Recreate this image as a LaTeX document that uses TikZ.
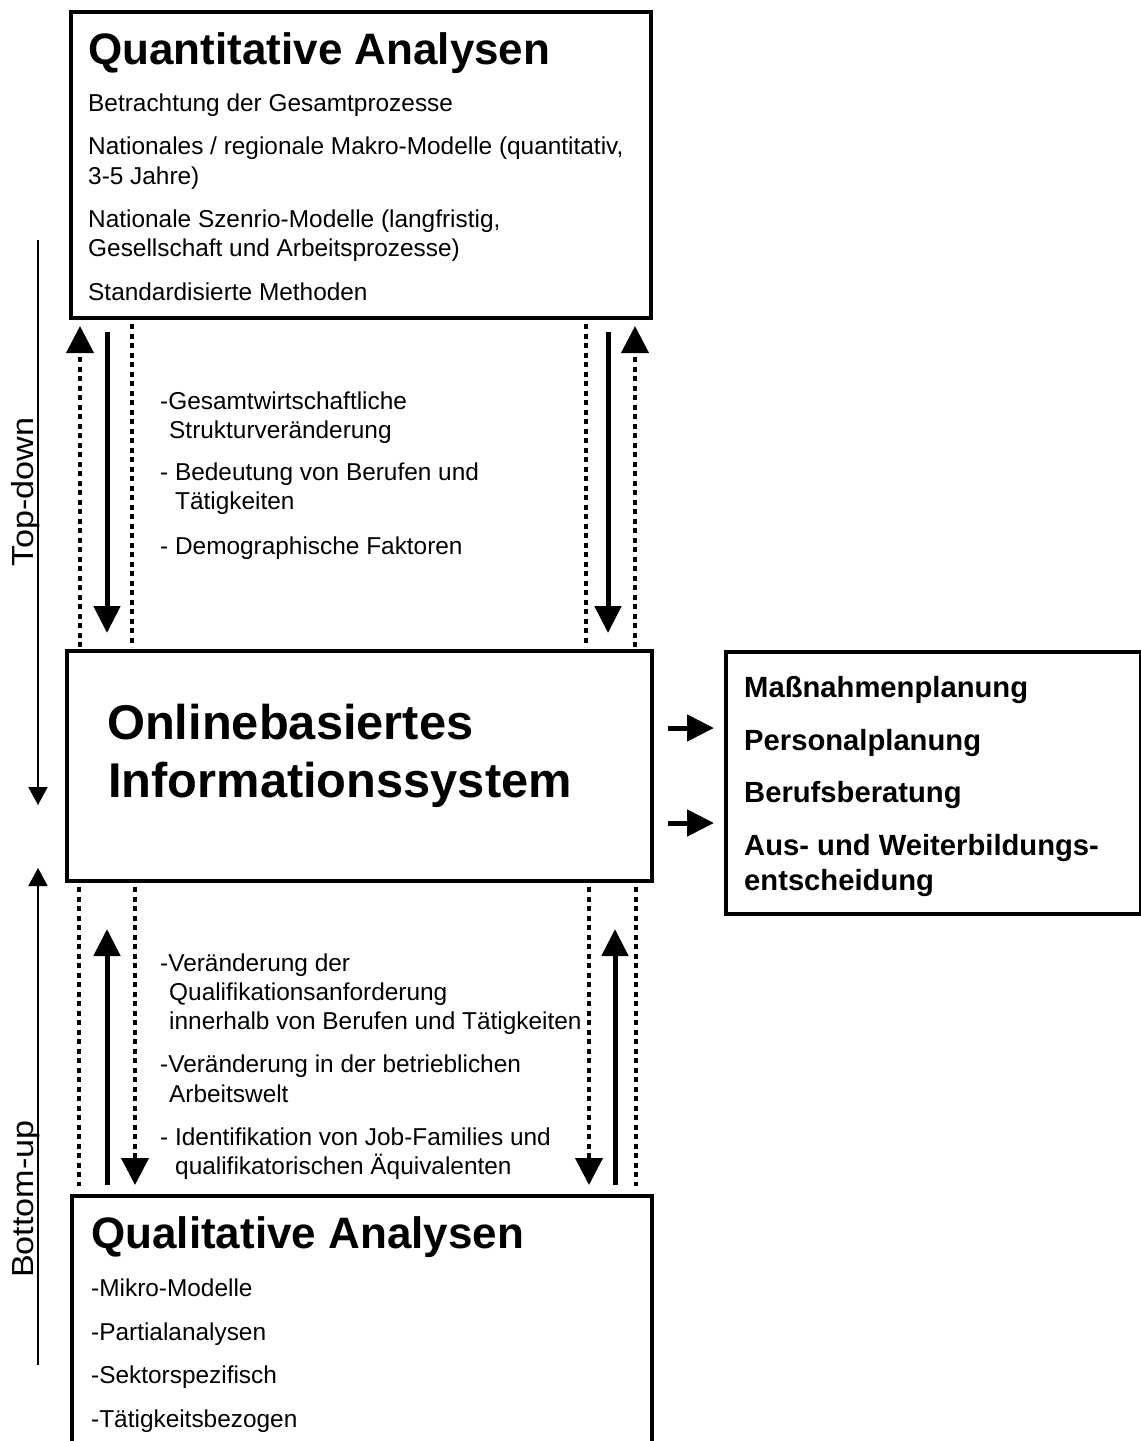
\documentclass[tikz,border=0pt]{standalone}
\usepackage{fontspec}
\setmainfont{Liberation Sans}
\usetikzlibrary{arrows.meta}
\begin{document}
\begin{tikzpicture}[x=1pt,y=-1pt,
 box/.style={draw,line width=4pt,inner sep=0pt,anchor=north west},
 txt/.style={anchor=base west,inner sep=0pt,font=\fontsize{24.4}{29}\selectfont},
 ttl/.style={anchor=base west,inner sep=0pt,font=\bfseries\fontsize{44}{50}\selectfont},
 rtxt/.style={anchor=base west,inner sep=0pt,font=\bfseries\fontsize{29.2}{35}\selectfont},
 bigtxt/.style={anchor=base west,inner sep=0pt,font=\bfseries\fontsize{48.8}{58}\selectfont},
 solidarr/.style={line width=5pt,-{Triangle[length=27pt,width=26pt]}},
 dotarr/.style={line width=4pt,dash pattern=on 5pt off 4.5pt,-{Triangle[length=27pt,width=27pt]}},
 dotline/.style={line width=4pt,dash pattern=on 5pt off 4.5pt},
 thinarr/.style={line width=2pt,-{Triangle[length=18pt,width=19pt]}},
 side/.style={font=\fontsize{30.5}{36}\selectfont,anchor=base,rotate=90,xscale=1.12,inner sep=0pt}
]
\useasboundingbox (0,0) rectangle (1141,1441);

% boxes
\node[box,minimum width=580pt,minimum height=306pt] (top) at (69,10) {};
\node[box,minimum width=585pt,minimum height=230pt] (mid) at (65,649) {};
\node[box,minimum width=415pt,minimum height=262pt] (rbox) at (724,650) {};
\node[box,minimum width=580pt,minimum height=254pt] (bot) at (70,1194) {};

% top box text
\node[ttl] (tt) at (88,64) {Quantitative Analysen};
\node[txt] (t1) at (88,111) {Betrachtung der Gesamtprozesse};
\node[txt] (t2) at (88,154) {Nationales / regionale Makro-Modelle (quantitativ,};
\node[txt] (t2b) at (88,184) {3-5 Jahre)};
\node[txt] (t3) at (88,227) {Nationale Szenrio-Modelle (langfristig,};
\node[txt] (t3b) at (88,256) {Gesellschaft und Arbeitsprozesse)};
\node[txt] (t4) at (88,300) {Standardisierte Methoden};

% upper middle text
\node[txt] (u1) at (160,409) {-Gesamtwirtschaftliche};
\node[txt] (u1b) at (169,438) {Strukturveränderung};
\node[txt] (u2) at (160,480) {- Bedeutung von Berufen und};
\node[txt] (u2b) at (175,509) {Tätigkeiten};
\node[txt] (u3) at (160,554) {- Demographische Faktoren};

% middle box text
\node[bigtxt] (m1) at (107,739) {Onlinebasiertes};
\node[bigtxt] (m2) at (108,797) {Informationssystem};

% right box text
\node[rtxt] (r1) at (744,697) {Maßnahmenplanung};
\node[rtxt] (r2) at (744,750) {Personalplanung};
\node[rtxt] (r3) at (744,802) {Berufsberatung};
\node[rtxt] (r4) at (744,855) {Aus- und Weiterbildungs-};
\node[rtxt] (r4b) at (744,890) {entscheidung};

% lower middle text
\node[txt] (l1) at (160,971) {-Veränderung der};
\node[txt] (l1b) at (169,1000) {Qualifikationsanforderung};
\node[txt] (l1c) at (169,1029) {innerhalb von Berufen und Tätigkeiten};
\node[txt] (l2) at (160,1072) {-Veränderung in der betrieblichen};
\node[txt] (l2b) at (169,1102) {Arbeitswelt};
\node[txt] (l3) at (160,1145) {- Identifikation von Job-Families und};
\node[txt] (l3b) at (175,1174) {qualifikatorischen Äquivalenten};

% bottom box text
\node[ttl] (bt) at (91,1248) {Qualitative Analysen};
\node[txt] (b1) at (91,1296) {-Mikro-Modelle};
\node[txt] (b2) at (91,1340) {-Partialanalysen};
\node[txt] (b3) at (91,1383) {-Sektorspezifisch};
\node[txt] (b4) at (91,1427) {-Tätigkeitsbezogen};

% side labels
\node[side] (td) at (34,492) {Top-down};
\node[side] (bu) at (34,1199) {Bottom-up};
\coordinate (tdA) at (38,240);
\coordinate (tdB) at (38,805);
\coordinate (buA) at (38,1365);
\coordinate (buB) at (38,868);
\draw[thinarr] (tdA) -- (tdB);
\draw[thinarr] (buA) -- (buB);

% x positions
\coordinate (xa) at (80,0);
\coordinate (xb) at (107,0);
\coordinate (xc) at (132,0);
\coordinate (xd) at (586,0);
\coordinate (xe) at (608,0);
\coordinate (xf) at (635,0);
\coordinate (ga) at (79,0);
\coordinate (gb) at (107,0);
\coordinate (gc) at (135,0);
\coordinate (gd) at (589,0);
\coordinate (ge) at (615,0);
\coordinate (gf) at (636,0);

% upper connectors
\draw[dotarr,shorten >=6pt,shorten <=2pt] (mid.north -| xa) -- (top.south -| xa);
\draw[solidarr,shorten <=12pt,shorten >=16pt] (top.south -| xb) -- (mid.north -| xb);
\draw[dotline,shorten <=4pt,shorten >=2pt] (top.south -| xc) -- (mid.north -| xc);
\draw[dotline,shorten <=4pt,shorten >=2pt] (top.south -| xd) -- (mid.north -| xd);
\draw[solidarr,shorten <=12pt,shorten >=16pt] (top.south -| xe) -- (mid.north -| xe);
\draw[dotarr,shorten >=6pt,shorten <=2pt] (mid.north -| xf) -- (top.south -| xf);

% lower connectors
\draw[dotline,shorten <=4pt,shorten >=8pt] (mid.south -| ga) -- (bot.north -| ga);
\draw[solidarr,shorten <=9pt,shorten >=46pt] (bot.north -| gb) -- (mid.south -| gb);
\draw[dotarr,shorten <=4pt,shorten >=9pt] (mid.south -| gc) -- (bot.north -| gc);
\draw[dotarr,shorten <=4pt,shorten >=9pt] (mid.south -| gd) -- (bot.north -| gd);
\draw[solidarr,shorten <=9pt,shorten >=46pt] (bot.north -| ge) -- (mid.south -| ge);
\draw[dotline,shorten <=4pt,shorten >=8pt] (mid.south -| gf) -- (bot.north -| gf);

% horizontal arrows
\coordinate (ya) at (0,728);
\coordinate (yb) at (0,823);
\draw[solidarr,shorten <=14pt,shorten >=10pt] (mid.east |- ya) -- (rbox.west |- ya);
\draw[solidarr,shorten <=14pt,shorten >=10pt] (mid.east |- yb) -- (rbox.west |- yb);
\end{tikzpicture}
\end{document}
